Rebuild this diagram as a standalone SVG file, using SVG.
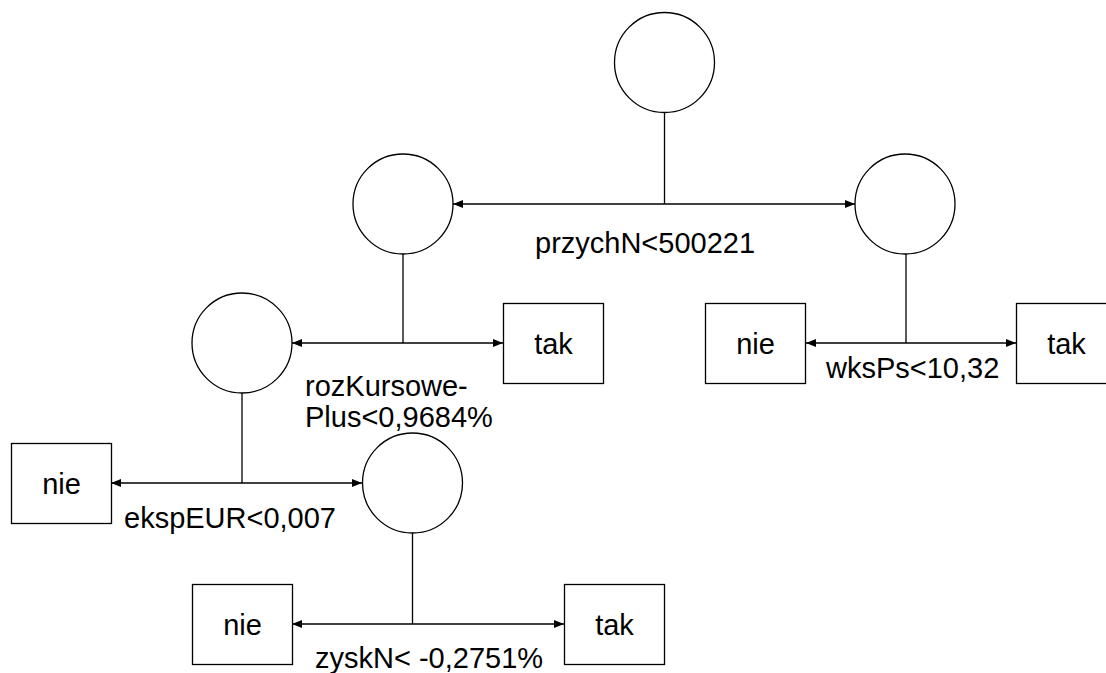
<svg xmlns="http://www.w3.org/2000/svg" width="1106" height="673" viewBox="0 0 1106 673">
<style>
.n{fill:#fff;stroke:#000;stroke-width:1.3}
.c{fill:none;stroke:#000;stroke-width:1.3}
text{font-family:"Liberation Sans",Arial,sans-serif;font-size:29px;fill:#000}
.m{text-anchor:middle}
</style>
<defs>
<marker id="ah" markerUnits="userSpaceOnUse" markerWidth="11" markerHeight="9" refX="10" refY="4.5" orient="auto-start-reverse">
<path d="M0,0.5 L10,4.5 L0,8.5 z" fill="#000"/>
</marker>
</defs>
<rect width="1106" height="673" fill="#fff"/>
<g id="connectors">
<path class="c" d="M664.5,112.5 V204"/>
<path class="c" d="M453,204 H855" marker-start="url(#ah)" marker-end="url(#ah)"/>
<path class="c" d="M403,254 V343"/>
<path class="c" d="M292,343 H503" marker-start="url(#ah)" marker-end="url(#ah)"/>
<path class="c" d="M906,254 V343"/>
<path class="c" d="M806,343 H1016" marker-start="url(#ah)" marker-end="url(#ah)"/>
<path class="c" d="M242,393 V483"/>
<path class="c" d="M111,483 H362" marker-start="url(#ah)" marker-end="url(#ah)"/>
<path class="c" d="M412.5,533 V624"/>
<path class="c" d="M292,624 H564" marker-start="url(#ah)" marker-end="url(#ah)"/>
</g>
<g id="labels">
<text x="535" y="253">przychN&lt;500221</text>
<text x="305" y="396">rozKursowe-</text>
<text x="305" y="427">Plus&lt;0,9684%</text>
<text x="826" y="378">wksPs&lt;10,32</text>
<text x="124" y="528">ekspEUR&lt;0,007</text>
<text x="315" y="668">zyskN&lt; -0,2751%</text>
</g>
<g id="root"><circle class="n" cx="664.5" cy="62.5" r="50"/></g>
<g id="n-left"><circle class="n" cx="403" cy="204" r="50"/></g>
<g id="n-right"><circle class="n" cx="905" cy="204" r="50"/></g>
<g id="n-left2"><circle class="n" cx="242" cy="343" r="50"/></g>
<g id="leaf-tak1"><rect class="n" x="503.5" y="303.5" width="100" height="80"/><text class="m" x="553.5" y="354">tak</text></g>
<g id="leaf-nie1"><rect class="n" x="705.5" y="303.5" width="100" height="80"/><text class="m" x="755.5" y="354">nie</text></g>
<g id="leaf-tak2"><rect class="n" x="1016.5" y="303.5" width="100" height="80"/><text class="m" x="1066.5" y="354">tak</text></g>
<g id="leaf-nie2"><rect class="n" x="11.5" y="443.5" width="100" height="80"/><text class="m" x="61.5" y="494">nie</text></g>
<g id="n-left3"><circle class="n" cx="412.5" cy="483" r="50"/></g>
<g id="leaf-nie3"><rect class="n" x="192.5" y="584.5" width="100" height="80"/><text class="m" x="242.5" y="635">nie</text></g>
<g id="leaf-tak3"><rect class="n" x="564.5" y="584.5" width="100" height="80"/><text class="m" x="614.5" y="635">tak</text></g>
</svg>
